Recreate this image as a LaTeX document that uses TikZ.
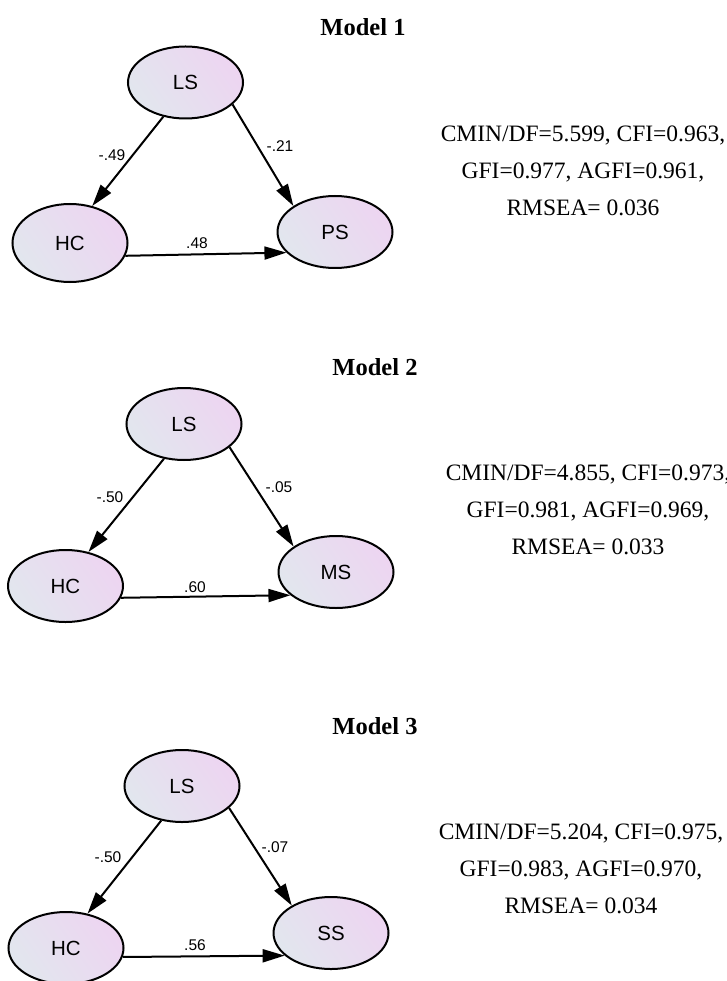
\documentclass[tikz,border=0pt]{standalone}
\usepackage{fontspec}
\setmainfont{Liberation Serif}
\newfontfamily\arialf{Liberation Sans}
\usetikzlibrary{arrows.meta,shapes.geometric}
\definecolor{lvA}{RGB}{226,230,238}
\definecolor{lvB}{RGB}{237,213,241}
\tikzset{
  lv/.style={ellipse, draw=black, line width=2pt, minimum width=115pt, minimum height=72pt,
    inner sep=0pt, left color=lvA, right color=lvB, shading angle=125,
    font=\arialf\fontsize{20.5}{22}\selectfont},
  lvtall/.style={lv, minimum height=78pt},
  arr/.style={line width=2pt, -{Triangle[length=22pt,width=13pt]}},
  coef/.style={font=\arialf\fontsize{15.5}{17}\selectfont},
  ttl/.style={font=\bfseries\fontsize{24.5}{28}\selectfont},
  fitstat/.style={align=center, font=\fontsize{23.5}{37}\selectfont}
}
\begin{document}
\begin{tikzpicture}[x=1pt,y=-1pt]
\useasboundingbox (0,0) rectangle (727,981);
% Model 1
\node[ttl] (t1) at (363,27) {Model 1};
\node[lv] (ls1) at (185.5,82.5) {LS};
\node[lvtall] (hc1) at (70,243) {HC};
\node[lv] (ps1) at (335,232) {PS};
\draw[arr] (ls1.237) -- (hc1.59);
\draw[arr] (ls1.335) -- (ps1.148);
\draw[arr] (hc1.347) -- (ps1.203);
\node[coef] (c11) at (112,155) {-.49};
\node[coef] (c12) at (280,146) {-.21};
\node[coef] (c13) at (197,243) {.48};
\node[fitstat] (f1) at (583,171) {CMIN/DF=5.599, CFI=0.963,\\GFI=0.977, AGFI=0.961,\\RMSEA= 0.036};
% Model 2
\node[ttl] (t2) at (375,367) {Model 2};
\node[lv] (ls2) at (184,424) {LS};
\node[lv] (hc2) at (65.5,586) {HC};
\node[lv] (ms2) at (336,572) {MS};
\draw[arr] (ls2.240) -- (hc2.56);
\draw[arr] (ls2.333) -- (ms2.149);
\draw[arr] (hc2.348) -- (ms2.207);
\node[coef] (c21) at (110,497) {-.50};
\node[coef] (c22) at (279,487) {-.05};
\node[coef] (c23) at (195,587) {.60};
\node[fitstat] (f2) at (588,510) {CMIN/DF=4.855, CFI=0.973,\\GFI=0.981, AGFI=0.969,\\RMSEA= 0.033};
% Model 3
\node[ttl] (t3) at (375,726) {Model 3};
\node[lv] (ls3) at (182,786) {LS};
\node[lv] (hc3) at (66,948) {HC};
\node[lv] (ss3) at (331,933) {SS};
\draw[arr] (ls3.239) -- (hc3.58);
\draw[arr] (ls3.335) -- (ss3.145);
\draw[arr] (hc3.351) -- (ss3.206);
\node[coef] (c31) at (108,857) {-.50};
\node[coef] (c32) at (275,847) {-.07};
\node[coef] (c33) at (195,945) {.56};
\node[fitstat] (f3) at (581,869) {CMIN/DF=5.204, CFI=0.975,\\GFI=0.983, AGFI=0.970,\\RMSEA= 0.034};
\end{tikzpicture}
\end{document}
